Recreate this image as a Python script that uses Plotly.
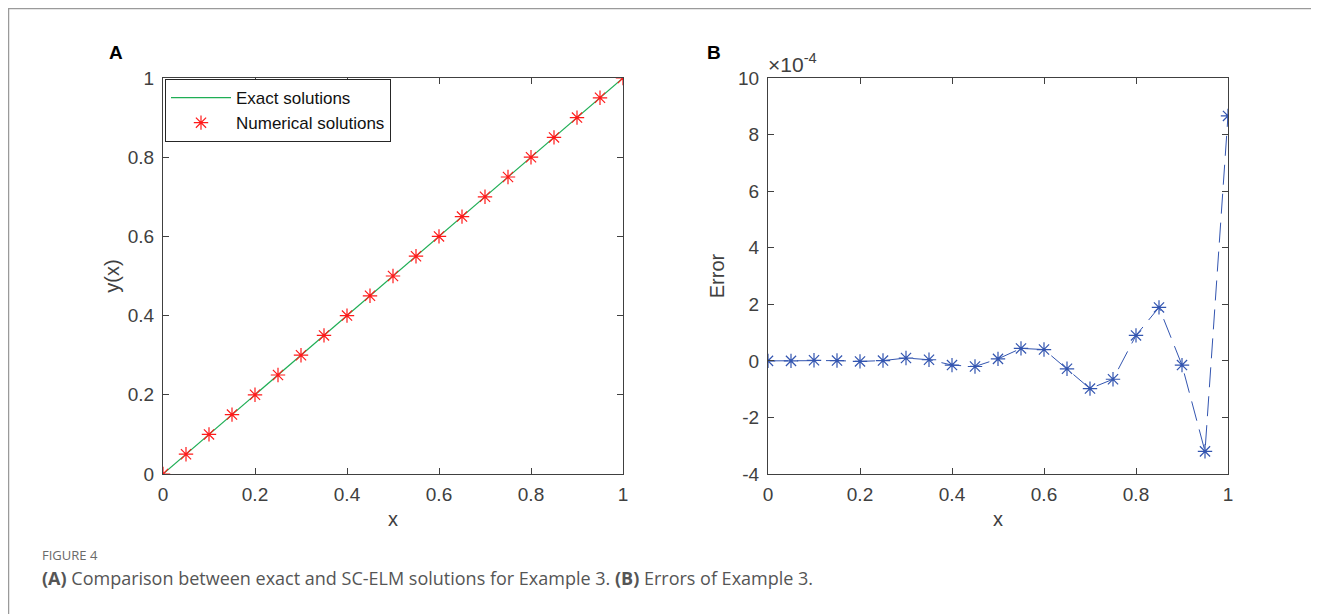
import plotly.graph_objects as go

# ---- data ----
x_nodes = [0.0, 0.05, 0.1, 0.15, 0.2, 0.25, 0.3, 0.35, 0.4, 0.45, 0.5,
           0.55, 0.6, 0.65, 0.7, 0.75, 0.8, 0.85, 0.9, 0.95, 1.0]
exact_x = [0.0, 1.0]
exact_y = [0.0, 1.0]
numerical_y = [0.0, 0.05, 0.1, 0.15, 0.2, 0.25, 0.3, 0.35, 0.4, 0.45, 0.5,
               0.55, 0.6, 0.65, 0.7, 0.75, 0.8, 0.85, 0.9, 0.95, 1.0]
# errors in units of 1e-4
error_e4 = [0.0, 0.0, 0.02, 0.01, -0.02, 0.01, 0.1, 0.04, -0.15, -0.2, 0.07,
            0.44, 0.4, -0.28, -0.98, -0.65, 0.9, 1.89, -0.15, -3.2, 8.66]
x_ticks = [0, 0.2, 0.4, 0.6, 0.8, 1]
x_tick_text = ["0", "0.2", "0.4", "0.6", "0.8", "1"]
yA_ticks = [0, 0.2, 0.4, 0.6, 0.8, 1]
yA_tick_text = ["0", "0.2", "0.4", "0.6", "0.8", "1"]
yB_ticks = [-4, -2, 0, 2, 4, 6, 8, 10]
yB_tick_text = ["-4", "-2", "0", "2", "4", "6", "8", "10"]

W, H = 1319, 614
OFF = 8  # page body margin
def px(x): return (x - OFF) / W
def py(y): return 1 - (y - OFF) / H

GREEN = "#1fae55"
RED = "#ff1a1a"
BLUE = "#3355b0"
AXC = "#404040"
FONT = "Liberation Sans"

fig = go.Figure()
fig.add_trace(go.Scatter(x=exact_x, y=exact_y, mode="lines", name="Exact solutions",
                         line=dict(color=GREEN, width=1.2), xaxis="x", yaxis="y"))
fig.add_trace(go.Scatter(x=x_nodes, y=numerical_y, mode="markers", name="Numerical solutions",
                         marker=dict(symbol="asterisk-open", size=12, color=RED,
                                     line=dict(color=RED, width=1.2)),
                         xaxis="x", yaxis="y"))
fig.add_trace(go.Scatter(x=x_nodes, y=error_e4, mode="lines+markers", showlegend=False,
                         line=dict(color=BLUE, width=1, dash="20px,9px"),
                         marker=dict(symbol="asterisk-open", size=12, color=BLUE,
                                     line=dict(color=BLUE, width=1.2)),
                         xaxis="x2", yaxis="y2"))

axis_common = dict(showgrid=False, zeroline=False, showline=True, linecolor=AXC,
                   linewidth=1, mirror="ticks", ticks="inside", ticklen=6,
                   tickcolor=AXC, automargin=False,
                   tickfont=dict(family=FONT, size=19, color=AXC))

fig.update_layout(
    width=W, height=H, margin=dict(l=0, r=0, t=0, b=0, autoexpand=False),
    paper_bgcolor="white", plot_bgcolor="white",
    font=dict(family=FONT, color=AXC),
    xaxis=dict(domain=[px(163), px(623)], range=[0, 1], tickvals=x_ticks,
               ticktext=x_tick_text, anchor="y", ticklabelstandoff=3,
               title=dict(text="x", font=dict(size=20, color=AXC), standoff=8),
               **axis_common),
    yaxis=dict(domain=[py(474), py(78)], range=[0, 1], tickvals=yA_ticks,
               ticktext=yA_tick_text, anchor="x", ticklabelstandoff=4,
               title=dict(text="y(x)", font=dict(size=20, color=AXC), standoff=2),
               **axis_common),
    xaxis2=dict(domain=[px(768), px(1228)], range=[0, 1], tickvals=x_ticks,
                ticktext=x_tick_text, anchor="y2", ticklabelstandoff=3,
                title=dict(text="x", font=dict(size=20, color=AXC), standoff=8),
                **axis_common),
    yaxis2=dict(domain=[py(474), py(78)], range=[-4, 10], tickvals=yB_ticks,
                ticktext=yB_tick_text, anchor="x2", ticklabelstandoff=4,
                title=dict(text="Error", font=dict(size=20, color=AXC), standoff=8),
                **axis_common),
    legend=dict(x=px(165), y=py(79), xanchor="left", yanchor="top",
                bgcolor="white", bordercolor="#262626", borderwidth=1,
                font=dict(family=FONT, size=17, color="#111"),
                tracegroupgap=0, itemwidth=60),
    shapes=[dict(type="rect", xref="paper", yref="paper",
                 x0=px(8.5), y0=py(700), x1=px(1400), y1=py(8.5),
                 line=dict(color="#9a9a9a", width=1.5), fillcolor="rgba(0,0,0,0)")],
    annotations=[
        dict(text="<b>A</b>", xref="paper", yref="paper", x=px(107), y=py(52),
             xanchor="left", yanchor="middle", showarrow=False,
             font=dict(family=FONT, size=19, color="#000")),
        dict(text="<b>B</b>", xref="paper", yref="paper", x=px(705), y=py(52),
             xanchor="left", yanchor="middle", showarrow=False,
             font=dict(family=FONT, size=19, color="#000")),
        dict(text="\u00d710<sup>-4</sup>", xref="paper", yref="paper", x=px(766), y=py(78),
             xanchor="left", yanchor="bottom", showarrow=False,
             font=dict(family=FONT, size=21, color=AXC)),
        dict(text="FIGURE 4", xref="paper", yref="paper", x=px(40), y=py(555),
             xanchor="left", yanchor="middle", showarrow=False,
             font=dict(family="Open Sans", size=13, color="#6a6a6a")),
        dict(text="<b>(A)</b> Comparison between exact and SC-ELM solutions for Example 3. "
                  "<b>(B)</b> Errors of Example 3.",
             xref="paper", yref="paper", x=px(40), y=py(578),
             xanchor="left", yanchor="middle", showarrow=False,
             font=dict(family="Open Sans", size=18, color="#555")),
    ],
)

fig.write_html("out.html")
